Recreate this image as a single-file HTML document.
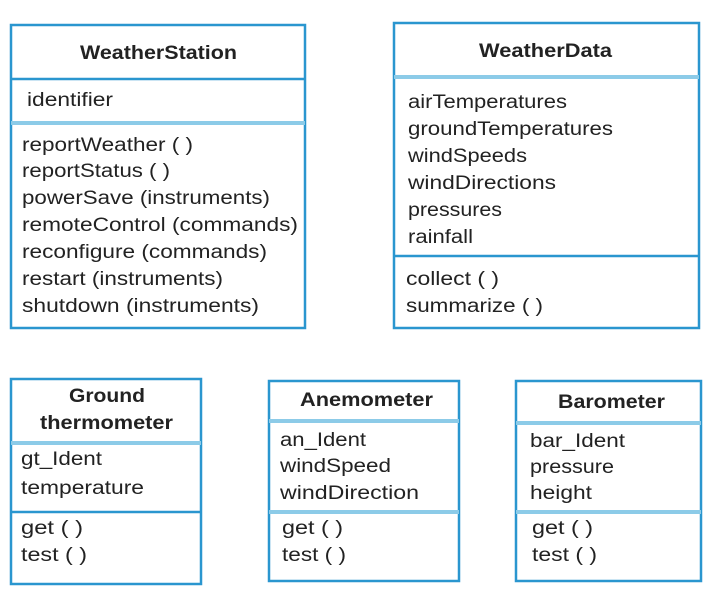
<!DOCTYPE html>
<html><head><style>
body{margin:0;background:#fff}
svg text{font-family:"Liberation Sans",sans-serif;font-size:19px;fill:#222}
.b{font-weight:bold}
</style></head><body>
<svg width="712" height="600" xmlns="http://www.w3.org/2000/svg">
<g fill="none" stroke="#2a96cf" stroke-width="2.5">
<rect x="11" y="25" width="294" height="303"/>
<line x1="11" y1="79" x2="305" y2="79"/>
<line x1="11" y1="123" x2="305" y2="123" stroke="#8ccbe8" stroke-width="4"/>
<rect x="394" y="23" width="305" height="305"/>
<line x1="394" y1="77" x2="699" y2="77" stroke="#8ccbe8" stroke-width="4"/>
<line x1="394" y1="256" x2="699" y2="256"/>
<rect x="11" y="379" width="190" height="205"/>
<line x1="11" y1="443" x2="201" y2="443" stroke="#8ccbe8" stroke-width="4"/>
<line x1="11" y1="512" x2="201" y2="512"/>
<rect x="269" y="381" width="190" height="200"/>
<line x1="269" y1="421" x2="459" y2="421" stroke="#8ccbe8" stroke-width="4"/>
<line x1="269" y1="512" x2="459" y2="512" stroke="#8ccbe8" stroke-width="4"/>
<rect x="516" y="381" width="185" height="200"/>
<line x1="516" y1="423" x2="701" y2="423" stroke="#8ccbe8" stroke-width="4"/>
<line x1="516" y1="512" x2="701" y2="512" stroke="#8ccbe8" stroke-width="4"/>
</g>
<g>
<text class="b" x="80" y="59" textLength="157" lengthAdjust="spacingAndGlyphs">WeatherStation</text>
<text x="27" y="106" textLength="86" lengthAdjust="spacingAndGlyphs">identifier</text>
<text x="22" y="151" textLength="171" lengthAdjust="spacingAndGlyphs">reportWeather ( )</text>
<text x="22" y="177" textLength="148" lengthAdjust="spacingAndGlyphs">reportStatus ( )</text>
<text x="22" y="204" textLength="248" lengthAdjust="spacingAndGlyphs">powerSave (instruments)</text>
<text x="22" y="231" textLength="276" lengthAdjust="spacingAndGlyphs">remoteControl (commands)</text>
<text x="22" y="258" textLength="245" lengthAdjust="spacingAndGlyphs">reconfigure (commands)</text>
<text x="22" y="285" textLength="201" lengthAdjust="spacingAndGlyphs">restart (instruments)</text>
<text x="22" y="312" textLength="237" lengthAdjust="spacingAndGlyphs">shutdown (instruments)</text>
<text class="b" x="479" y="57" textLength="133" lengthAdjust="spacingAndGlyphs">WeatherData</text>
<text x="408" y="108" textLength="159" lengthAdjust="spacingAndGlyphs">airTemperatures</text>
<text x="408" y="135" textLength="205" lengthAdjust="spacingAndGlyphs">groundTemperatures</text>
<text x="408" y="162" textLength="119" lengthAdjust="spacingAndGlyphs">windSpeeds</text>
<text x="408" y="189" textLength="148" lengthAdjust="spacingAndGlyphs">windDirections</text>
<text x="408" y="216" textLength="94" lengthAdjust="spacingAndGlyphs">pressures</text>
<text x="408" y="243" textLength="65" lengthAdjust="spacingAndGlyphs">rainfall</text>
<text x="406" y="285" textLength="93" lengthAdjust="spacingAndGlyphs">collect ( )</text>
<text x="406" y="312" textLength="137" lengthAdjust="spacingAndGlyphs">summarize ( )</text>
<text class="b" x="69" y="402" textLength="76" lengthAdjust="spacingAndGlyphs">Ground</text>
<text class="b" x="40" y="429" textLength="133" lengthAdjust="spacingAndGlyphs">thermometer</text>
<text x="21" y="465" textLength="81" lengthAdjust="spacingAndGlyphs">gt_Ident</text>
<text x="21" y="494" textLength="123" lengthAdjust="spacingAndGlyphs">temperature</text>
<text x="21" y="534" textLength="62" lengthAdjust="spacingAndGlyphs">get ( )</text>
<text x="21" y="561" textLength="66" lengthAdjust="spacingAndGlyphs">test ( )</text>
<text class="b" x="300" y="406" textLength="133" lengthAdjust="spacingAndGlyphs">Anemometer</text>
<text x="280" y="446" textLength="86" lengthAdjust="spacingAndGlyphs">an_Ident</text>
<text x="280" y="472" textLength="111" lengthAdjust="spacingAndGlyphs">windSpeed</text>
<text x="280" y="499" textLength="139" lengthAdjust="spacingAndGlyphs">windDirection</text>
<text x="282" y="534" textLength="61" lengthAdjust="spacingAndGlyphs">get ( )</text>
<text x="282" y="561" textLength="64" lengthAdjust="spacingAndGlyphs">test ( )</text>
<text class="b" x="558" y="408" textLength="107" lengthAdjust="spacingAndGlyphs">Barometer</text>
<text x="530" y="447" textLength="95" lengthAdjust="spacingAndGlyphs">bar_Ident</text>
<text x="530" y="473" textLength="84" lengthAdjust="spacingAndGlyphs">pressure</text>
<text x="530" y="499" textLength="62" lengthAdjust="spacingAndGlyphs">height</text>
<text x="532" y="534" textLength="61" lengthAdjust="spacingAndGlyphs">get ( )</text>
<text x="532" y="561" textLength="65" lengthAdjust="spacingAndGlyphs">test ( )</text>
</g>
</svg>
</body></html>
